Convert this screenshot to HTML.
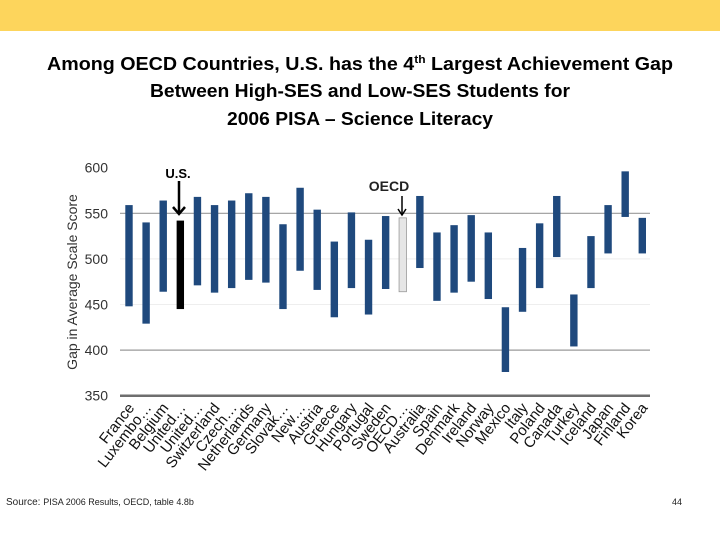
<!DOCTYPE html>
<html><head><meta charset="utf-8"><style>
html,body{margin:0;padding:0;background:#fff;}
svg{display:block;font-family:"Liberation Sans",Arial,sans-serif;}
</style></head><body>
<svg id="c" width="720" height="540" viewBox="0 0 720 540">
<rect x="0" y="0" width="720" height="31" fill="#fdd55c"/>
<g font-weight="bold" fill="#000" text-anchor="middle" font-size="18">
<text x="360" y="70" textLength="626" lengthAdjust="spacingAndGlyphs">Among OECD Countries, U.S. has the 4<tspan font-size="11" dy="-7">th</tspan><tspan dy="7"> Largest Achievement Gap</tspan></text>
<text x="360" y="97" textLength="420" lengthAdjust="spacingAndGlyphs">Between High-SES and Low-SES Students for</text>
<text x="360" y="125" textLength="266" lengthAdjust="spacingAndGlyphs">2006 PISA – Science Literacy</text>
</g>
<text x="77" y="282" transform="rotate(-90 77 282)" text-anchor="middle" font-size="14" fill="#333">Gap in Average Scale Score</text>
<g id="grid"></g><g id="bars"></g><g id="labels"></g>
<g>
<text x="178" y="178" text-anchor="middle" font-size="13" font-weight="bold">U.S.</text>
<line x1="179" y1="181" x2="179" y2="213" stroke="#000" stroke-width="2.5"/>
<polyline points="173,207 179,214 185,207" fill="none" stroke="#000" stroke-width="2.5"/>
</g>
<g>
<text x="389" y="191" text-anchor="middle" font-size="14" font-weight="bold" fill="#222">OECD</text>
<line x1="402" y1="196" x2="402" y2="214" stroke="#000" stroke-width="1.5"/>
<polyline points="398,209 402,215 406,209" fill="none" stroke="#000" stroke-width="1.5"/>
</g>
<text x="6" y="505" font-size="9" fill="#222"><tspan font-size="10">Source: </tspan>PISA 2006 Results, OECD, table 4.8b</text>
<text x="672" y="505" font-size="9" fill="#222">44</text>
</svg>
<script>
const categories=["France","Luxembo…","Belgium","United…","United…","Switzerland","Czech…","Netherlands","Germany","Slovak…","New…","Austria","Greece","Hungary","Portugal","Sweden","OECD…","Australia","Spain","Denmark","Ireland","Norway","Mexico","Italy","Poland","Canada","Turkey","Iceland","Japan","Finland","Korea"];
const highValues=[559,540,564,542,568,559,564,572,568,538,578,554,519,551,521,547,545,569,529,537,548,529,447,512,539,569,461,525,559,596,545];
const lowValues=[448,429,464,445,471,463,468,477,474,445,487,466,436,468,439,467,464,490,454,463,475,456,376,442,468,502,404,468,506,546,506];
const yTicks=[350,400,450,500,550,600];
const NS="http://www.w3.org/2000/svg";
const y=v=>395.7-(v-350)*0.912;
const x=i=>129+i*(513.3/(categories.length-1));
function mk(t,a,p){const e=document.createElementNS(NS,t);for(const k in a)e.setAttribute(k,a[k]);p.appendChild(e);return e;}
const grid=document.getElementById('grid'),bars=document.getElementById('bars'),labels=document.getElementById('labels');
yTicks.forEach(v=>{
  if(v===400||v===550){const l=mk('line',{x1:120,x2:650,y1:y(v),y2:y(v),stroke:'#9a9a9a','stroke-width':1.2},grid);
  
  }
  if(v===500||v===450){const l=mk('line',{x1:120,x2:650,y1:y(v),y2:y(v),stroke:'#eeeeee','stroke-width':1},grid);
  
  }
  const t=mk('text',{x:108,y:y(v)+5,'text-anchor':'end','font-size':14,fill:'#333'},grid);t.textContent=v;
  
  
});
const ax=mk('line',{x1:120,x2:650,y1:y(350),y2:y(350),stroke:'#6e6e6e','stroke-width':2.5},grid);


categories.forEach((c,i)=>{
  const fill=i===3?'#000':(i===16?'#e6e6e6':'#1f497d');
  const r=mk('rect',{x:x(i)-3.7,y:y(highValues[i]),width:7.4,height:y(lowValues[i])-y(highValues[i]),fill:fill,stroke:i===16?'#999':'none','stroke-width':0.8},bars);
  
  
  const t=mk('text',{x:x(i)+6,y:408,'text-anchor':'end','font-size':15,fill:'#111',transform:`rotate(-52 ${x(i)+6} 408)`},labels);
  t.textContent=c;
  
  
});
</script>
</body></html>
